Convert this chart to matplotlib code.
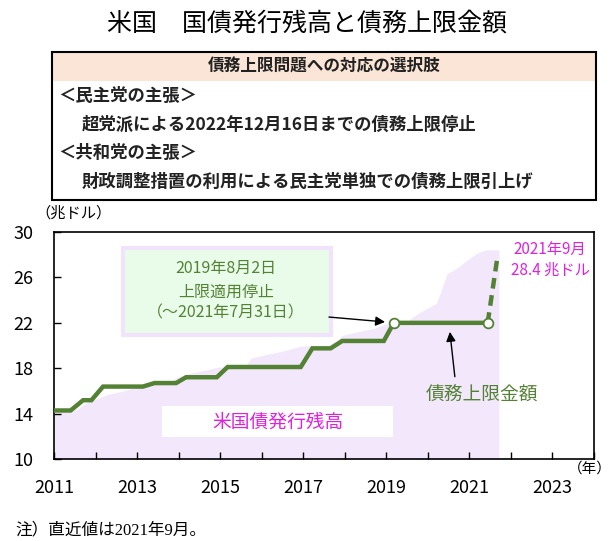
import matplotlib
matplotlib.use("Agg")
import matplotlib.pyplot as plt
from matplotlib.patches import Rectangle

plt.rcParams['font.family'] = ['Noto Sans CJK JP', 'DejaVu Sans']

# ---- data ----
limit_x = [2011.0, 2011.4, 2011.7, 2011.9, 2012.18, 2013.14, 2013.42, 2013.94,
           2014.18, 2014.92, 2015.18, 2016.94, 2017.22, 2017.66, 2017.94,
           2018.94, 2019.18, 2021.44]
limit_y = [14.29, 14.29, 15.19, 15.19, 16.39, 16.39, 16.70, 16.70,
           17.21, 17.21, 18.11, 18.11, 19.75, 19.75, 20.40,
           20.40, 21.99, 21.99]
suspend_x = [2019.18, 2021.44]
suspend_y = [21.99, 21.99]
raise_x = [2021.44, 2021.68]
raise_y = [21.99, 27.9]

debt_x = [2011.0, 2011.35, 2011.55, 2011.7, 2012.0, 2012.3, 2012.6, 2013.0,
          2013.2, 2013.4, 2013.8, 2013.95, 2014.2, 2014.6, 2014.95, 2015.6,
          2015.75, 2016.1, 2016.5, 2016.95, 2017.6, 2017.75, 2017.95, 2018.3,
          2018.7, 2019.0, 2019.15, 2019.5, 2019.78, 2020.2, 2020.3, 2020.46,
          2020.7, 2020.98, 2021.2, 2021.4, 2021.71]
debt_y = [14.05, 14.29, 14.35, 14.8, 15.3, 15.7, 15.95, 16.35,
          16.55, 16.7, 16.72, 17.2, 17.5, 17.8, 18.1, 18.15,
          18.9, 19.2, 19.5, 19.95, 20.0, 20.3, 20.9, 21.2,
          21.5, 21.9, 22.0, 22.1, 22.85, 23.7, 24.6, 26.3,
          26.8, 27.6, 28.15, 28.4, 28.4]

x_major = [2011, 2013, 2015, 2017, 2019, 2021, 2023]
x_minor = list(range(2011, 2025))
y_ticks = [10, 14, 18, 22, 26, 30]

GREEN = '#548235'
MAGENTA = '#e020e0'
LAV = '#f3e7fc'

fig = plt.figure(figsize=(6.14, 5.41), dpi=100)

# title
fig.text(0.5, 1 - 24 / 541, '米国　国債発行残高と債務上限金額', ha='center', va='center',
         fontsize=18)

# header table box
bx0, bx1 = 52 / 614, 596 / 614
by_top, by_bot = 1 - 52 / 541, 1 - 200 / 541
hb = 1 - 81 / 541
fig.patches.append(Rectangle((bx0, hb), bx1 - bx0, by_top - hb, transform=fig.transFigure,
                             facecolor='#fbe5d6', edgecolor='none', zorder=0))
fig.patches.append(Rectangle((bx0, by_bot), bx1 - bx0, by_top - by_bot, transform=fig.transFigure,
                             facecolor='none', edgecolor='black', lw=1.5, zorder=1))
fig.text((bx0 + bx1) / 2, 1 - 67 / 541, '債務上限問題への対応の選択肢', ha='center', va='center',
         fontsize=12, fontweight='bold', color='#222222')
fig.text(58 / 614, 1 - 96 / 541, '＜民主党の主張＞', ha='left', va='center', fontsize=12.5,
         fontweight='bold', color='#222222')
fig.text(82 / 614, 1 - 125 / 541, '超党派による2022年12月16日までの債務上限停止', ha='left',
         va='center', fontsize=12.5, fontweight='bold', color='#222222')
fig.text(58 / 614, 1 - 153 / 541, '＜共和党の主張＞', ha='left', va='center', fontsize=12.5,
         fontweight='bold', color='#222222')
fig.text(82 / 614, 1 - 182 / 541, '財政調整措置の利用による民主党単独での債務上限引上げ', ha='left',
         va='center', fontsize=12.5, fontweight='bold', color='#222222')

# main axes
ax = fig.add_axes([54 / 614, 81.7 / 541, 540 / 614, 227.6 / 541])
ax.set_xlim(2011, 2024)
ax.set_ylim(10, 30)

ax.fill_between(debt_x, debt_y, 10, color=LAV, lw=0, zorder=1)
ax.plot(limit_x, limit_y, color=GREEN, lw=3.2, solid_joinstyle='miter', zorder=3)
ax.plot(raise_x, raise_y, color=GREEN, lw=3.2, ls=(0, (2.4, 1.5)), zorder=3)
ax.plot(suspend_x, suspend_y, ls='none', marker='o', ms=7, mfc='white', mec=GREEN,
        mew=1.3, zorder=4)

ax.set_xticks(x_major)
ax.set_xticks(x_minor, minor=True)
ax.set_yticks(y_ticks)
ax.tick_params(axis='both', which='both', direction='in', length=5, width=1, color='black')
ax.tick_params(axis='x', which='major', labelsize=13, pad=14)
ax.tick_params(axis='y', which='major', labelsize=13, pad=15)
for s in ax.spines.values():
    s.set_linewidth(1.2)
    s.set_color('black')

# annotation box
ax.add_patch(Rectangle((0.128, 0.546), 0.385, 0.382, transform=ax.transAxes,
                       facecolor='#e9fbe9', edgecolor='#f1e3fb', lw=3, zorder=2))
ax.text(0.3185, 0.839, '2019年8月2日', transform=ax.transAxes, ha='center', va='center',
        fontsize=11.5, color=GREEN, zorder=5)
ax.text(0.3185, 0.736, '上限適用停止', transform=ax.transAxes, ha='center', va='center',
        fontsize=11.5, color=GREEN, zorder=5)
ax.text(0.3185, 0.641, '（～2021年7月31日）', transform=ax.transAxes, ha='center', va='center',
        fontsize=11.5, color=GREEN, zorder=5)
ax.annotate('', xy=(2018.97, 22.07), xytext=(2017.62, 22.5),
            arrowprops=dict(arrowstyle='-|>', color='black', lw=1, mutation_scale=14,
                            shrinkA=0, shrinkB=0), zorder=5)

# debt label box
ax.add_patch(Rectangle((0.2, 0.098), 0.428, 0.136, transform=ax.transAxes,
                       facecolor='white', edgecolor='none', zorder=2))
ax.text(0.415, 0.164, '米国債発行残高', transform=ax.transAxes, ha='center', va='center',
        fontsize=13.5, color=MAGENTA, zorder=5)

# debt limit label
ax.text(0.7926, 0.283, '債務上限金額', transform=ax.transAxes, ha='center', va='center',
        fontsize=13.5, color=GREEN, zorder=5)
ax.annotate('', xy=(2020.53, 21.2), xytext=(2020.65, 17.26),
            arrowprops=dict(arrowstyle='-|>', color='black', lw=1, mutation_scale=14,
                            shrinkA=0, shrinkB=0), zorder=5)

# latest value label
ax.text(0.9185, 0.924, '2021年9月', transform=ax.transAxes, ha='center', va='center',
        fontsize=11, color=MAGENTA, zorder=5)
ax.text(0.9185, 0.832, '28.4 兆ドル', transform=ax.transAxes, ha='center', va='center',
        fontsize=11, color=MAGENTA, zorder=5)

# unit labels
fig.text(74 / 614, 1 - 213 / 541, '（兆ドル）', ha='center', va='center', fontsize=11)
fig.text(612 / 614, 1 - 469 / 541, '（年）', ha='right', va='center', fontsize=10.5)

# footnote
fig.text(15 / 614, 1 - 530 / 541, '注）直近値は2021年9月。', ha='left', va='center',
         fontsize=12, family=['Liberation Serif', 'Noto Sans CJK JP'])

fig.savefig('out.png', dpi=100)
